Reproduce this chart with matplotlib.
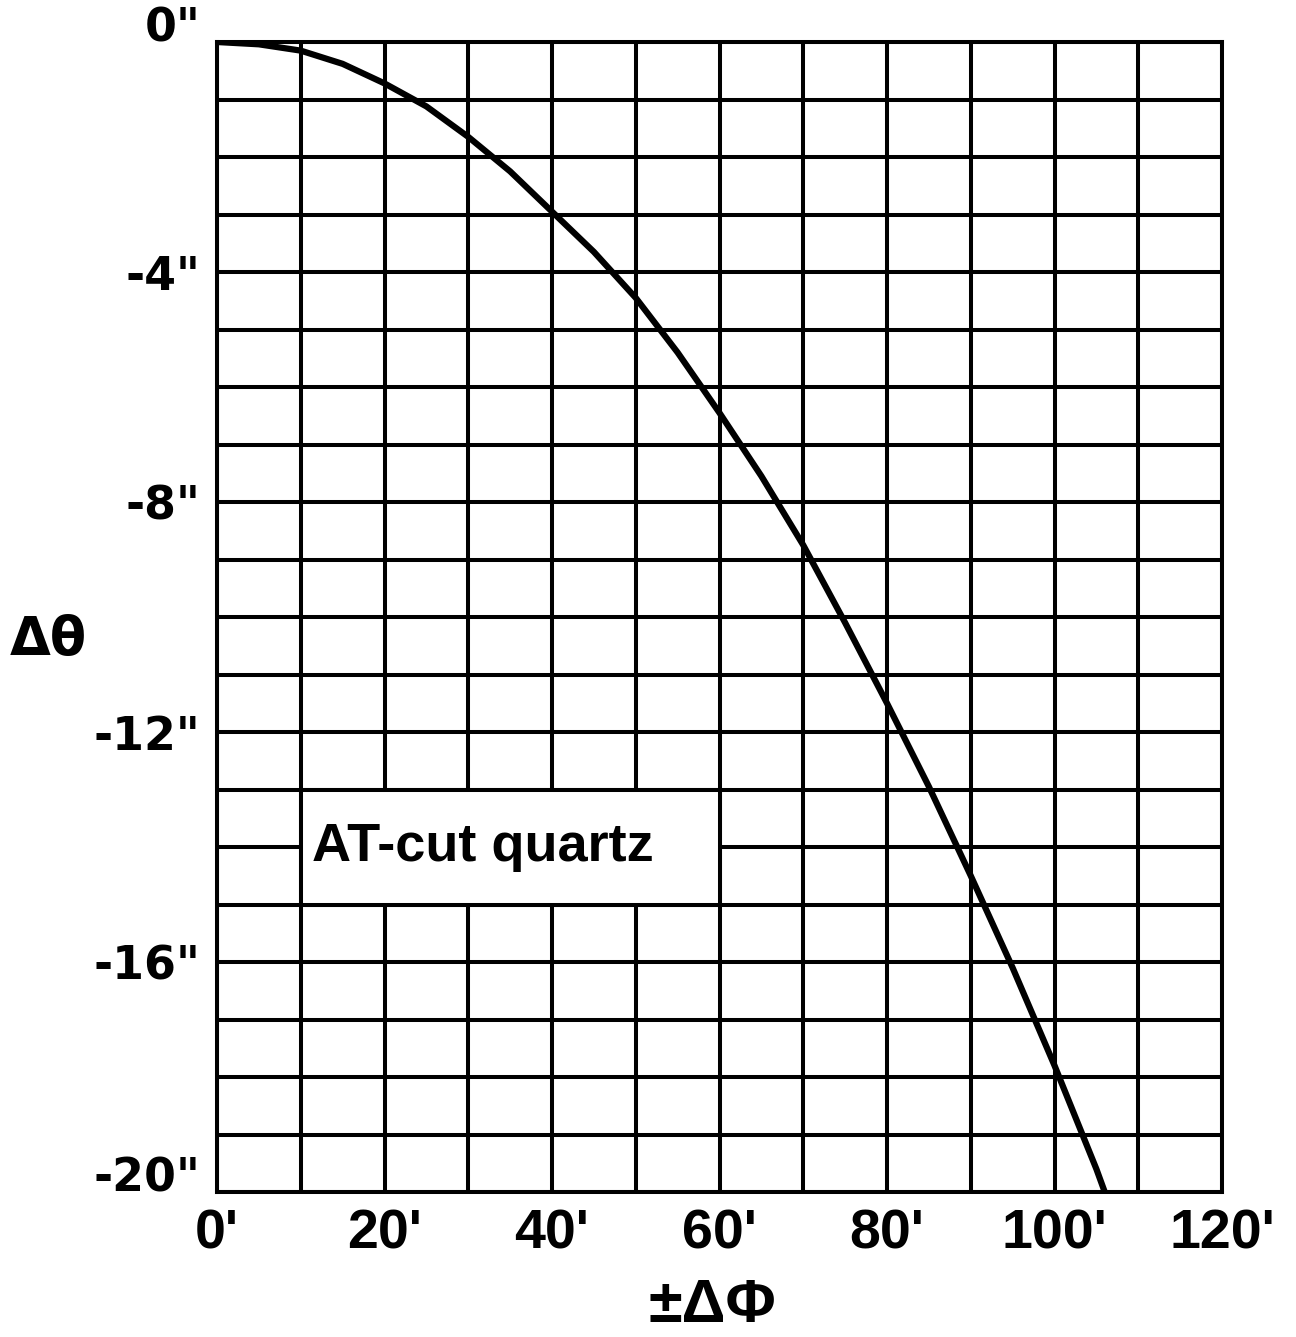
import matplotlib
matplotlib.use("Agg")
import matplotlib.pyplot as plt
from matplotlib.patches import Rectangle

# Data (minutes of arc vs seconds of arc)
phi_minutes = [0, 5, 10, 15, 20, 25, 30, 35, 40, 45, 50, 55, 60, 65, 70, 75,
               80, 85, 90, 95, 100, 105, 106]
dtheta_seconds = [0, -0.04, -0.15, -0.38, -0.72, -1.12, -1.65, -2.25, -2.95,
                  -3.65, -4.45, -5.4, -6.45, -7.55, -8.75, -10.1, -11.5,
                  -12.95, -14.5, -16.1, -17.8, -19.6, -20.0]

x_ticks = [0, 20, 40, 60, 80, 100, 120]
x_tick_labels = ["0'", "20'", "40'", "60'", "80'", "100'", "120'"]
y_ticks = [0, -4, -8, -12, -16, -20]
y_tick_labels = ['0"', '-4"', '-8"', '-12"', '-16"', '-20"']
label_text = "AT-cut quartz"
x_label = "±ΔΦ"
y_label = "Δθ"

narrow = ['Liberation Sans', 'DejaVu Sans']
wide = ['DejaVu Sans']

W, H = 1296, 1337
fig = plt.figure(figsize=(W / 100, H / 100), dpi=100)
ax = fig.add_axes([217 / W, 1 - 1192 / H, (1222 - 217) / W, (1192 - 42) / H])

ax.set_xlim(0, 120)
ax.set_ylim(-20, 0)

lw_grid = 2.9
for xv in range(0, 121, 10):
    ax.axvline(xv, color='black', lw=lw_grid, zorder=1)
for yv in range(-20, 1, 1):
    ax.axhline(yv, color='black', lw=lw_grid, zorder=1)

# White label box covering grid interior
ax.add_patch(Rectangle((10, -15), 50, 2, facecolor='white', edgecolor='black',
                       lw=lw_grid, zorder=2))
ax.text(11.3, -14.0, label_text, fontsize=39, fontweight='bold', family=narrow,
        va='center', ha='left', zorder=3)

ax.plot(phi_minutes, dtheta_seconds, color='black', lw=4.5, zorder=4,
        solid_capstyle='butt')

for s in ax.spines.values():
    s.set_linewidth(lw_grid)
    s.set_color('black')

ax.set_xticks(x_ticks)
ax.set_xticklabels(x_tick_labels, family=narrow, fontsize=40, fontweight='bold')
ax.set_yticks(y_ticks)
ax.set_yticklabels(y_tick_labels, family=wide, fontsize=33, fontweight='bold')
ax.tick_params(axis='both', length=0)
ax.tick_params(axis='x', pad=12)
ax.tick_params(axis='y', pad=12)

ylbls = ax.get_yticklabels()
ylbls[0].set_va('baseline')
ylbls[-1].set_va('baseline')

fig.text(10 / W, 1 - 640 / H, y_label, fontsize=38, fontweight='bold',
         family=wide, ha='left', va='center')
fig.text(712 / W, 1 - 1306 / H, x_label, fontsize=44, fontweight='bold',
         family=narrow, ha='center', va='center')

fig.savefig("out.png", dpi=100)
